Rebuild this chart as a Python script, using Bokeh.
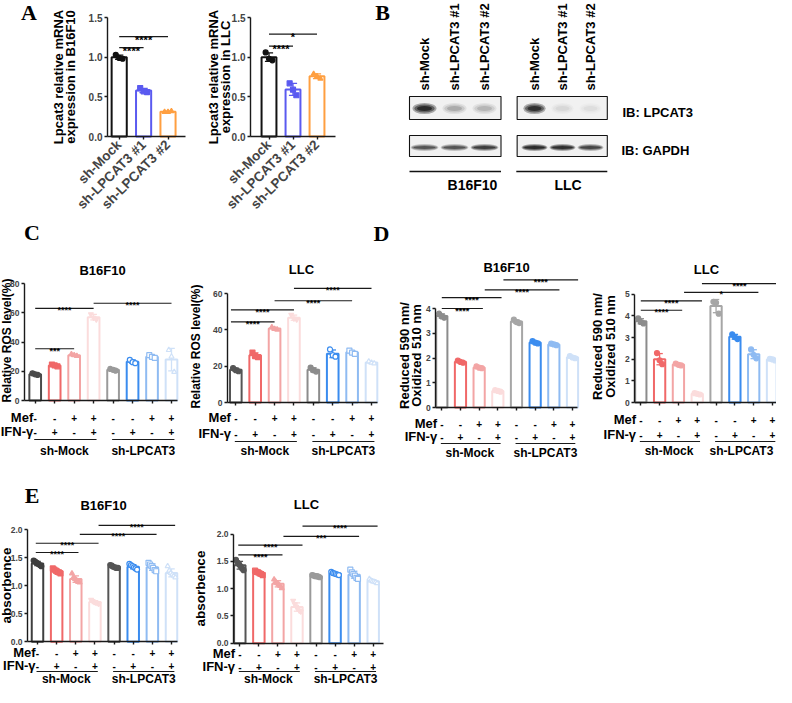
import math
import numpy as np
from bokeh.plotting import figure
from bokeh.models import Range1d, LinearAxis, FixedTicker
from bokeh.core.properties import value
from bokeh.embed import file_html
from bokeh.resources import INLINE

# ---------------------------------------------------------------- data
A_categories = ["sh-Mock", "sh-LPCAT3 #1", "sh-LPCAT3 #2"]
A_colors = ["#111111", "#5a5af0", "#ff9f40"]
A_markers = ["circle", "square", "triangle"]
A_yticks = [0, 0.5, 1.0, 1.5]
A_ytick_labels = ["0.0", "0.5", "1.0", "1.5"]
A1_points = [[1.03, 0.99, 0.98], [0.61, 0.57, 0.56], [0.31, 0.31, 0.32]]
A2_points = [[1.06, 0.98, 0.96], [0.67, 0.59, 0.52], [0.79, 0.76, 0.73]]
A1_sig = [(0, 1, 1.12, "****"), (0, 2, 1.26, "****")]
A2_sig = [(0, 1, 1.14, "****"), (0, 2, 1.29, "*")]

mef_signs = ["-", "-", "+", "+", "-", "-", "+", "+"]
ifn_signs = ["-", "+", "-", "+", "-", "+", "-", "+"]
group_names = ["sh-Mock", "sh-LPCAT3"]

C_markers = ["circle", "square", "triangle", "inverted_triangle",
             "circle", "circle", "square", "triangle"]
C_filled = [True, True, True, True, True, False, False, False]
D_markers = ["circle"] * 8
D_filled = [True] * 8

C1_colors = ["#4a4a4a", "#f06868", "#f3a5a5", "#fbdcdc", "#9a9a9a", "#3a8cef", "#8fbbf2", "#cfe1f8"]
C2_colors = ["#555555", "#f06868", "#f3a5a5", "#fbdcdc", "#8c8c8c", "#3a8cef", "#8fbbf2", "#cfe1f8"]
D1_colors = ["#8c8c8c", "#f06868", "#f3a5a5", "#fbdcdc", "#a6a6a6", "#3a8cef", "#8fbbf2", "#cfe1f8"]
D2_colors = ["#8c8c8c", "#f06868", "#f3a5a5", "#fbdcdc", "#a6a6a6", "#3a8cef", "#8fbbf2", "#cfe1f8"]
E1_colors = ["#3f3f3f", "#f06868", "#f3a5a5", "#fbdcdc", "#555555", "#3a8cef", "#8fbbf2", "#cfe1f8"]
E2_colors = ["#555555", "#f06868", "#f3a5a5", "#fbdcdc", "#9a9a9a", "#3a8cef", "#8fbbf2", "#cfe1f8"]

C1_points = [[18.6, 17.9, 17.5], [24.6, 24.0, 23.4], [31.7, 30.9, 30.4], [59.0, 56.6, 55.4],
             [21.6, 21.0, 20.4], [27.8, 26.2, 25.5], [31.0, 29.8, 29.2], [34.5, 30.0, 19.5]]
C2_points = [[19.0, 17.8, 17.2], [27.5, 25.5, 25.0], [41.5, 40.5, 40.1], [48.3, 46.2, 45.6],
             [19.2, 17.8, 17.0], [29.2, 26.0, 25.2], [28.6, 27.4, 26.8], [22.6, 21.9, 21.5]]
D1_points = [[3.79, 3.68, 3.63], [1.90, 1.84, 1.81], [1.66, 1.61, 1.59], [0.70, 0.67, 0.64],
             [3.55, 3.45, 3.41], [2.68, 2.62, 2.59], [2.58, 2.55, 2.52], [2.08, 2.02, 1.99]]
D2_points = [[3.88, 3.72, 3.65], [2.28, 1.95, 1.77], [1.80, 1.74, 1.71], [0.43, 0.40, 0.37],
             [4.65, 4.60, 4.10], [3.15, 3.02, 2.93], [2.45, 2.20, 2.04], [2.02, 1.99, 1.94]]
E1_points = [[1.45, 1.43, 1.41, 1.39, 1.37, 1.35], [1.31, 1.29, 1.27, 1.25, 1.24, 1.22],
             [1.22, 1.15, 1.12, 1.10, 1.07, 1.06], [0.75, 0.73, 0.71, 0.70, 0.69, 0.68],
             [1.37, 1.36, 1.34, 1.33, 1.32, 1.32], [1.39, 1.37, 1.35, 1.33, 1.31, 1.29],
             [1.41, 1.38, 1.35, 1.32, 1.28, 1.26], [1.35, 1.27, 1.23, 1.20, 1.18, 1.15]]
E2_points = [[1.53, 1.48, 1.45, 1.41, 1.37, 1.34], [1.33, 1.31, 1.30, 1.28, 1.27, 1.25],
             [1.17, 1.13, 1.10, 1.08, 1.05, 1.01], [0.78, 0.72, 0.67, 0.63, 0.60, 0.58],
             [1.25, 1.24, 1.23, 1.23, 1.22, 1.21], [1.31, 1.29, 1.28, 1.27, 1.26, 1.25],
             [1.35, 1.30, 1.27, 1.24, 1.20, 1.18], [1.18, 1.15, 1.14, 1.13, 1.12, 1.10]]

C1_yticks, C1_ylabels = [0, 20, 40, 60, 80], ["0", "20", "40", "60", "80"]
C2_yticks, C2_ylabels = [0, 20, 40, 60], ["0", "20", "40", "60"]
D1_yticks, D1_ylabels = [0, 1, 2, 3, 4], ["0", "1", "2", "3", "4"]
D2_yticks, D2_ylabels = [0, 1, 2, 3, 4, 5], ["0", "1", "2", "3", "4", "5"]
E_yticks, E_ylabels = [0, 0.5, 1.0, 1.5, 2.0], ["0.0", "0.5", "1.0", "1.5", "2.0"]

C1_sig = [(0, 2, 35.4, "***"), (0, 3, 63.0, "****"), (3, 7, 66.5, "****")]
C2_sig = [(-0.25, 2, 44.4, "****"), (-0.25, 3, 51.0, "****"), (2, 6, 56.0, "****"), (3, 7, 62.8, "****")]
D1_sig = [(0, 2.2, 4.0, "****"), (0, 3.2, 4.44, "****"), (2.3, 6.3, 4.75, "****"), (3.3, 7.3, 5.16, "****")]
D2_sig = [(0, 2.2, 4.26, "****"), (0, 3.25, 4.69, "****"), (2.3, 6.25, 5.08, "*"), (3.25, 7.23, 5.49, "****")]
E1_sig = [(-0.09, 2.14, 1.595, "****"), (-0.09, 3.19, 1.76, "****"), (2.21, 6.22, 1.92, "****"), (3.19, 7.19, 2.08, "****")]
E2_sig = [(-0.08, 2.24, 1.62, "****"), (-0.08, 3.29, 1.80, "****"), (2.29, 6.26, 1.96, "***"), (3.29, 7.23, 2.15, "****")]

blot_lanes = ["sh-Mock", "sh-LPCAT3 #1", "sh-LPCAT3 #2"]
blot_lpcat3_b16 = [0.95, 0.22, 0.18]
blot_lpcat3_llc = [0.90, 0.07, 0.05]
blot_gapdh_b16 = [0.62, 0.62, 0.78]
blot_gapdh_llc = [0.95, 0.90, 0.72]

# ---------------------------------------------------------------- layout
W, H = 776, 687
OFF = 8
FONT = "Liberation Sans"
SERIF = "Liberation Serif"


def I(v):
    return v - OFF


# panel geometry in picture pixels: (data u0, px0, data u1, px1), (data v0, py0, v1, py1)
GEOM = {
    "a1": dict(u=(0, 126.7, 2, 175.5), v=(0, 144, 1.5, 25), xl=-0.48, xr=2.72),
    "a2": dict(u=(0, 276.5, 2, 324.5), v=(0, 144, 1.5, 25), xl=-0.77, xr=2.77),
    "c1": dict(u=(0, 42.7, 7, 179), v=(0, 408, 80, 291), xl=-0.55, xr=7.31),
    "c2": dict(u=(0, 243.3, 7, 379), v=(0, 410, 60, 301), xl=-0.43, xr=7.31),
    "d1": dict(u=(0, 449.3, 7, 580), v=(0, 415, 4, 316), xl=-0.32, xr=7.28),
    "d2": dict(u=(0, 648.3, 7, 780), v=(0, 410, 5, 301.7), xl=-0.32, xr=7.27),
    "e1": dict(u=(0, 45, 7, 179), v=(0, 649.3, 2, 537.3), xl=-0.52, xr=7.31),
    "e2": dict(u=(0, 247.3, 7, 380.7), v=(0, 650.7, 2, 541.7), xl=-0.33, xr=7.55),
}
BLOT = {"bb": (0, 432, 2, 492), "bl": (0, 542, 2, 598)}

p = figure(width=W, height=H, x_range=Range1d(0, W), y_range=Range1d(H, 0),
           x_axis_type=None, y_axis_type=None, toolbar_location=None,
           output_backend="svg", min_border=0, outline_line_color=None)
p.background_fill_color = "white"
p.border_fill_color = "white"

xrs, yrs = {}, {}
for name, g in GEOM.items():
    u0, x0, u1, x1 = g["u"]
    v0, y0, v1, y1 = g["v"]
    X0, X1, Y0, Y1 = I(x0), I(x1), I(y0), I(y1)
    kx = (X1 - X0) / (u1 - u0)
    xrs[name] = Range1d(u0 - X0 / kx, u0 + (W - X0) / kx)
    ky = (Y0 - Y1) / (v1 - v0)
    yrs[name] = Range1d(v0 - (H - Y0) / ky, v0 + Y0 / ky)
for name, (u0, x0, u1, x1) in BLOT.items():
    X0, X1 = I(x0), I(x1)
    kx = (X1 - X0) / (u1 - u0)
    xrs[name] = Range1d(u0 - X0 / kx, u0 + (W - X0) / kx)
p.extra_x_ranges = xrs
p.extra_y_ranges = yrs


def T(x, y, s, size, xn="default", yn="default", align="center", baseline="middle",
      angle=0.0, font=FONT, style="bold", color="black", y_off=0):
    xs = x if isinstance(x, list) else [x]
    n = len(xs)
    ys = y if isinstance(y, list) else [y] * n
    ss = s if isinstance(s, list) else [s] * n
    p.text(x=xs, y=ys, text=ss, text_font=value(font), text_font_style=style,
           text_font_size=size, text_align=align, text_baseline=baseline, angle=angle,
           text_color=color, y_offset=y_off, x_range_name=xn, y_range_name=yn)


def style_axis(ax, size):
    ax.axis_line_width = 1.4
    ax.axis_line_color = "#1a1a1a"
    ax.major_tick_line_width = 1.4
    ax.major_tick_line_color = "#1a1a1a"
    ax.major_tick_out = 3
    ax.major_tick_in = 0
    ax.minor_tick_line_color = None
    ax.major_label_text_font = FONT
    ax.major_label_text_font_style = "bold"
    ax.major_label_text_font_size = size
    ax.major_label_standoff = 2


def add_axes(name, yticks, ylabels, nbars, tick_size, xlabels=None, xlab_size="13.5px"):
    g = GEOM[name]
    ya = LinearAxis(x_range_name=name, y_range_name=name, fixed_location=g["xl"],
                    bounds=(0, yticks[-1]), ticker=FixedTicker(ticks=yticks, minor_ticks=[]),
                    major_label_overrides={t: l for t, l in zip(yticks, ylabels)})
    style_axis(ya, tick_size)
    p.add_layout(ya, "left")
    xt = list(range(nbars))
    xa = LinearAxis(x_range_name=name, y_range_name=name, fixed_location=0,
                    bounds=(g["xl"], g["xr"]), ticker=FixedTicker(ticks=xt, minor_ticks=[]))
    style_axis(xa, tick_size)
    if xlabels is None:
        xa.major_label_text_color = None
    else:
        xa.major_label_overrides = {i: l for i, l in enumerate(xlabels)}
        xa.major_label_orientation = math.pi / 4
        xa.major_label_text_font_size = xlab_size
        xa.major_label_standoff = 3
    p.add_layout(xa, "below")


JIT = {3: [-0.14, 0.0, 0.14], 6: [-0.2, -0.12, -0.04, 0.04, 0.12, 0.2]}


def bars(name, pts, colors, markers, filled, width=0.6, msize=5):
    n = len(pts)
    xs = list(range(n))
    means = [float(np.mean(v)) for v in pts]
    sds = [float(np.std(v, ddof=1)) for v in pts]
    p.vbar(x=xs, top=means, bottom=0, width=width, fill_color="white",
           line_color=colors, line_width=2, x_range_name=name, y_range_name=name)
    lo = [m - s for m, s in zip(means, sds)]
    hi = [m + s for m, s in zip(means, sds)]
    p.segment(x0=xs, x1=xs, y0=lo, y1=hi, line_color=colors, line_width=1.3,
              x_range_name=name, y_range_name=name)
    cap = 0.17
    p.segment(x0=[x - cap for x in xs] * 2, x1=[x + cap for x in xs] * 2, y0=lo + hi, y1=lo + hi,
              line_color=colors * 2, line_width=1.3, x_range_name=name, y_range_name=name)
    px, py, pc, pm, pf = [], [], [], [], []
    for i, v in enumerate(pts):
        offs = JIT[len(v)]
        for j, val in enumerate(v):
            px.append(i + offs[j])
            py.append(val)
            pc.append(colors[i])
            pm.append(markers[i])
            pf.append(colors[i] if filled[i] else "white")
    p.scatter(x=px, y=py, marker=pm, size=msize, line_color=pc, fill_color=pf,
              line_width=1.2, x_range_name=name, y_range_name=name)


def sigs(name, sig, size="9px", y_off=2):
    p.segment(x0=[s[0] for s in sig], x1=[s[1] for s in sig], y0=[s[2] for s in sig],
              y1=[s[2] for s in sig], line_color="#1a1a1a", line_width=1.2,
              x_range_name=name, y_range_name=name)
    T([(s[0] + s[1]) / 2 for s in sig], [s[2] for s in sig], [s[3] for s in sig], size,
      xn=name, yn=name, baseline="alphabetic", y_off=y_off)


def label_rows(name, rows, mef_x=-0.25, grp_x=(1.5, 5.55), grp_size="12.5px"):
    mef_y, ifn_y, line_y, grp_y = rows
    xs = list(range(8))
    T(xs, I(mef_y), mef_signs, "10px", xn=name)
    T(xs, I(ifn_y), ifn_signs, "10px", xn=name)
    T(mef_x, I(mef_y), "Mef", "13px", xn=name, align="right")
    T(mef_x, I(ifn_y), "IFN-γ", "13px", xn=name, align="right")
    p.segment(x0=[-0.05, 3.95], x1=[3.15, 7.15], y0=[I(line_y)] * 2, y1=[I(line_y)] * 2,
              line_color="#1a1a1a", line_width=1.2, x_range_name=name)
    T(list(grp_x), I(grp_y), group_names, grp_size, xn=name)


# ---------------------------------------------------------------- panel A
for name, pts, sig in [("a1", A1_points, A1_sig), ("a2", A2_points, A2_sig)]:
    add_axes(name, A_yticks, A_ytick_labels, 3, "10px", xlabels=A_categories)
    bars(name, pts, A_colors, A_markers, [True] * 3, width=0.62)
    sigs(name, sig, size="11px", y_off=3)
T(I(66), I(84.5), "Lpcat3 relative mRNA", "13px", angle=math.pi / 2)
T(I(78), I(84.5), "expression in B16F10", "13px", angle=math.pi / 2)
T(I(221), I(84.5), "Lpcat3 relative mRNA", "13px", angle=math.pi / 2)
T(I(232.5), I(84.5), "expression in LLC", "13px", angle=math.pi / 2)

# ---------------------------------------------------------------- panel B (blots)
for name, lp, gp, box, line, lab_x, lab in [
        ("bb", blot_lpcat3_b16, blot_gapdh_b16, (-0.5, 2.55), (-0.5, 2.55), 1.6, "B16F10"),
        ("bl", blot_lpcat3_llc, blot_gapdh_llc, (-0.62, 2.6), (-0.65, 2.6), 1.2, "LLC")]:
    for (yt, yb) in [(104, 127), (143, 164)]:
        p.quad(left=[box[0]], right=[box[1]], top=[I(yt)], bottom=[I(yb)],
               fill_color="#f1f1f1", line_color="#111111", line_width=1.1, x_range_name=name)
    lanes = list(range(3))
    for inten, yc, hs, ws in [(lp, 116, (11, 8, 5), (0.8, 0.68, 0.5)),
                              (gp, 155, (7, 5, 3), (0.92, 0.85, 0.75))]:
        for h, w, a in zip(hs, ws, (0.35, 0.5, 0.75)):
            p.ellipse(x=lanes, y=[I(yc)] * 3, width=w, height=h, fill_color="#151515",
                      fill_alpha=[a * v for v in inten], line_color=None, x_range_name=name)
    p.segment(x0=[line[0]], x1=[line[1]], y0=[I(179)], y1=[I(179)], line_color="#111111",
              line_width=1.3, x_range_name=name)
    T(lanes, I(98), blot_lanes, "13px", xn=name, align="left", angle=math.pi / 2)
    T(lab_x, I(192), lab, "14px", xn=name)
T(I(630), I(120), "IB: LPCAT3", "13px", align="left")
T(I(629), I(158), "IB: GAPDH", "13px", align="left")

# ---------------------------------------------------------------- panels C, D, E
PANELS = [
    ("c1", C1_points, C1_colors, C_markers, C_filled, C1_yticks, C1_ylabels, C1_sig, (425, 439, 447, 458), -0.1, (1.5, 5.55)),
    ("c2", C2_points, C2_colors, C_markers, C_filled, C2_yticks, C2_ylabels, C2_sig, (425, 441, 449, 458), -0.25, (1.5, 5.55)),
    ("d1", D1_points, D1_colors, D_markers, D_filled, D1_yticks, D1_ylabels, D1_sig, (431, 444, 451, 460), -0.25, (1.5, 5.55)),
    ("d2", D2_points, D2_colors, D_markers, D_filled, D2_yticks, D2_ylabels, D2_sig, (427, 442, 449, 458), -0.25, (1.5, 5.35)),
    ("e1", E1_points, E1_colors, C_markers, C_filled, E_yticks, E_ylabels, E1_sig, (660, 673, 679, 686), -0.1, (1.5, 5.55)),
    ("e2", E2_points, E2_colors, C_markers, C_filled, E_yticks, E_ylabels, E2_sig, (661, 674, 679, 686), -0.25, (1.5, 5.55)),
]
for name, pts, cols, mk, fl, yt, yl, sig, rows, mx, gx in PANELS:
    add_axes(name, yt, yl, 8, "8.5px")
    bars(name, pts, cols, mk, fl, width=0.6, msize=5)
    sigs(name, sig)
    label_rows(name, rows, mef_x=mx, grp_x=gx, grp_size="12px")

# titles
for x, y, s in [(110, 278, "B16F10"), (309, 277, "LLC"), (514, 275, "B16F10"),
                (714, 277, "LLC"), (111, 513, "B16F10"), (314, 512, "LLC")]:
    T(I(x), I(y), s, "13px")

# y-axis titles
T(I(14.5), I(348), "Relative ROS level(%)", "12px", angle=math.pi / 2)
T(I(203), I(354), "Relative ROS level(%)", "12px", angle=math.pi / 2)
T(I(411.7), I(363), "Reduced 590 nm/", "13px", angle=math.pi / 2)
T(I(423.5), I(363), "Oxidized 510 nm", "13px", angle=math.pi / 2)
T(I(605), I(354), "Reduced 590 nm/", "13px", angle=math.pi / 2)
T(I(618), I(354), "Oxidized 510 nm", "13px", angle=math.pi / 2)
T(I(14), I(593), "absorbence", "13.5px", angle=math.pi / 2)
T(I(208), I(596), "absorbence", "13.5px", angle=math.pi / 2)

# panel letters
for x, y, s in [(36.5, 20, "A"), (390, 20, "B"), (39.5, 240, "C"), (389, 241, "D"), (39.5, 503, "E")]:
    T(I(x), I(y), s, "22px", font=SERIF)

open("out.html", "w").write(file_html(p, INLINE))
